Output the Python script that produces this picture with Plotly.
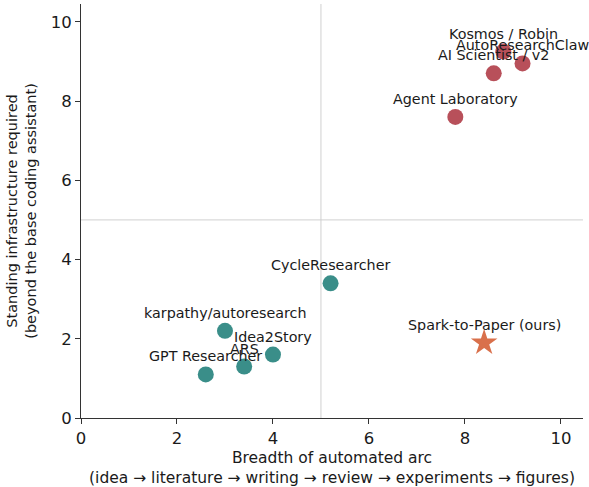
import plotly.graph_objects as go

# systems placed on breadth vs infrastructure
names = ["Kosmos / Robin", "AutoResearchClaw", "AI Scientist / v2", "Agent Laboratory",
         "CycleResearcher", "karpathy/autoresearch", "Idea2Story", "ARS", "GPT Researcher"]
breadth = [8.8, 9.2, 8.6, 7.8, 5.2, 3.0, 4.0, 3.4, 2.6]
infra = [9.25, 8.95, 8.7, 7.6, 3.4, 2.2, 1.6, 1.3, 1.1]
group = ["heavy", "heavy", "heavy", "heavy", "light", "light", "light", "light", "light"]

ours_name = "Spark-to-Paper (ours)"
ours_breadth = [8.4]
ours_infra = [1.9]

colors = {"heavy": "#b8505a", "light": "#3a8e89"}
star_color = "#d9704b"

fig = go.Figure()

for g in ["heavy", "light"]:
    xs = [b for b, gg in zip(breadth, group) if gg == g]
    ys = [v for v, gg in zip(infra, group) if gg == g]
    fig.add_trace(go.Scatter(x=xs, y=ys, mode="markers",
                             marker=dict(size=16, color=colors[g], line=dict(width=0)),
                             showlegend=False))

fig.add_trace(go.Scatter(x=ours_breadth, y=ours_infra, mode="markers",
                         marker=dict(size=20, symbol="star", color=star_color, line=dict(width=0)),
                         showlegend=False))

for n, x, y in zip(names + [ours_name], breadth + ours_breadth, infra + ours_infra):
    fig.add_annotation(x=x, y=y, text=n, showarrow=False, yanchor="middle", yshift=18,
                       font=dict(size=14.3, color="#1a1a1a"))

# quadrant split lines
fig.add_shape(type="line", x0=5, x1=5, y0=0, y1=1, yref="paper", layer="below",
              line=dict(color="#d0d0d0", width=1))
fig.add_shape(type="line", x0=0, x1=1, xref="paper", y0=5, y1=5, layer="below",
              line=dict(color="#d0d0d0", width=1))

axis_common = dict(showgrid=False, zeroline=False, showline=True, linecolor="#333333",
                   linewidth=1, ticks="outside", ticklen=5, tickcolor="#333333",
                   tickfont=dict(size=16.5, color="#1a1a1a"), dtick=2)

fig.update_layout(
    width=589, height=487,
    margin=dict(l=81, r=6, t=4, b=69),
    plot_bgcolor="white", paper_bgcolor="white",
    font=dict(family="DejaVu Sans", color="#1a1a1a"),
    xaxis=dict(range=[0, 10.46], title=dict(
        text="Breadth of automated arc<br>(idea → literature → writing → review → experiments → figures)",
        font=dict(size=15.5), standoff=5), **axis_common),
    yaxis=dict(range=[0, 10.45], title=dict(
        text="Standing infrastructure required<br>(beyond the base coding assistant)",
        font=dict(size=14.5), standoff=10), **axis_common),
)

# drop the default page margin so the figure sits at the window's corner
fig.write_html("out.html", config={"displayModeBar": False},
               post_script="document.body.style.margin='0';")
